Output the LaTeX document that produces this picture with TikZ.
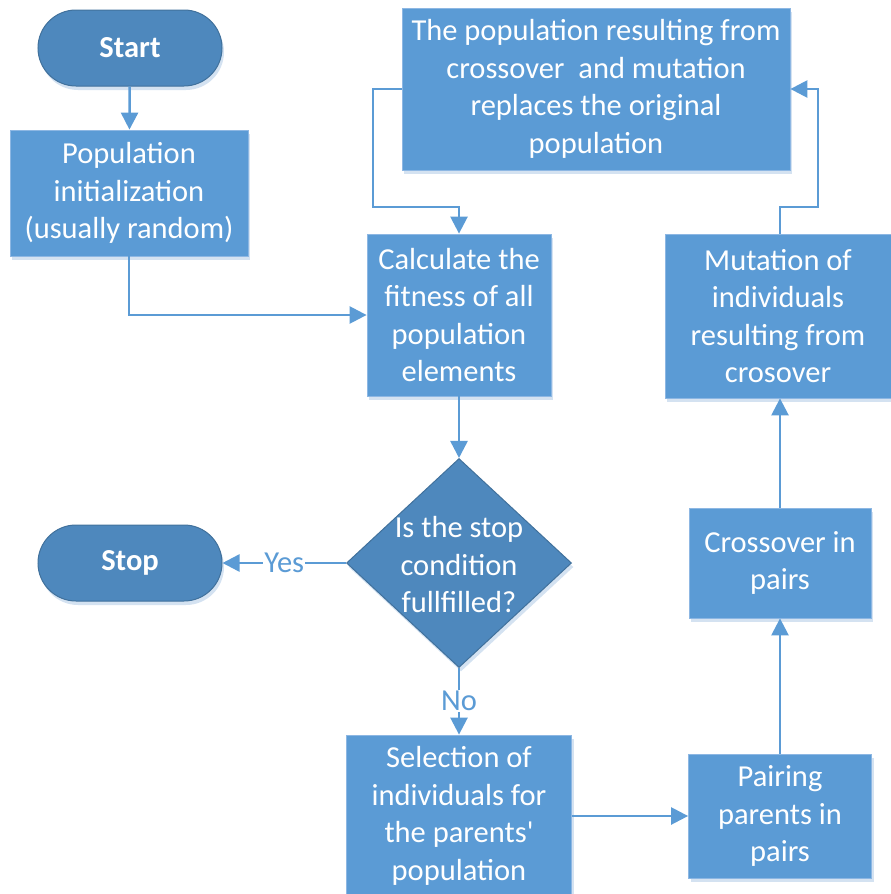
\documentclass[tikz,border=0pt]{standalone}
\usepackage{fontspec}
\setmainfont{Carlito}
\usetikzlibrary{shapes.geometric,shapes.misc,arrows.meta,shadows}
\definecolor{boxblue}{HTML}{5B9BD5}
\definecolor{boxedge}{HTML}{8DB7E3}
\definecolor{darkblue}{HTML}{4E88BD}
\definecolor{darkedge}{HTML}{41719C}
\definecolor{shadowblue}{HTML}{C9DBEE}
\begin{document}
\begin{tikzpicture}[x=1pt,y=-1pt,
  basefont/.style={font=\fontsize{30.5}{37.5}\selectfont},
  shade box/.style={drop shadow={shadow xshift=2pt,shadow yshift=-4pt,fill=shadowblue,opacity=0.8}},
  procbox/.style={rectangle,basefont,text=white,fill=boxblue,draw=boxedge,line width=0.8pt,
    inner sep=0pt,align=center,shade box},
  terminal/.style={rounded rectangle,font=\fontsize{30.5}{37.5}\selectfont\bfseries,text=white,
    fill=darkblue,draw=darkedge,line width=1pt,inner sep=0pt,minimum width=184pt,minimum height=76pt,shade box},
  decision/.style={diamond,fill=darkblue,draw=darkedge,line width=1pt,inner sep=0pt,
    minimum width=225pt,minimum height=209pt,shade box},
  dectext/.style={basefont,text=white,align=center,inner sep=0pt},
  conn/.style={draw=boxblue,line width=2.5pt,-{Triangle[length=17pt,width=17pt]}},
  edgelabel/.style={basefont,text=boxblue,fill=white,inner sep=1pt}]
\useasboundingbox (0,0) rectangle (891,894);

% nodes
\node[terminal] (start) at (130,48) {Start};
\node[procbox,minimum width=238pt,minimum height=126pt] (pop) at (129,193)
  {Population\\initialization\\(usually random)};
\node[procbox,minimum width=388pt,minimum height=162pt] (top) at (596,89)
  {The population resulting from\\crossover\ \ and mutation\\replaces the original\\population};
\node[procbox,minimum width=184pt,minimum height=162pt] (calc) at (459,315)
  {Calculate the\\fitness of all\\population\\elements};
\node[decision] (cond) at (459,563) {};
\node[dectext] at ([yshift=-2pt]cond.center) {Is the stop\\condition\\fullfilled?};
\node[terminal] (stop) at (130,563) {Stop};
\node[procbox,minimum width=225pt,minimum height=162pt] (sel) at (459,816)
  {Selection of\\individuals for\\the parents\textquotesingle\\population};
\node[procbox,minimum width=183pt,minimum height=124pt] (pair) at (780,816)
  {Pairing\\parents in\\pairs};
\node[procbox,minimum width=182pt,minimum height=110pt] (cross) at (780,563)
  {Crossover in\\pairs};
\node[procbox,minimum width=226pt,minimum height=164pt] (mut) at (778,316)
  {Mutation of\\individuals\\resulting from\\crosover};

% bend points of the loop connectors
\coordinate (lbend) at (373,207);
\coordinate (rbend) at (818,207);

% connectors
\draw[conn] (start) -- (pop);
\draw[conn] (pop.south) |- (calc.west);
\draw[conn] (top.west) -| (lbend) -| (calc.north);
\draw[conn] (calc) -- (cond);
\draw[conn] (cond.west) -- node[edgelabel] {Yes} (stop.east);
\draw[conn] (cond.south) -- node[edgelabel] {No} (sel.north);
\draw[conn] (sel.east) -- (pair.west);
\draw[conn] (pair.north) -- (cross.south);
\draw[conn] (cross.north) -- (cross.north |- mut.south);
\draw[conn] (cross.north |- mut.north) |- (rbend) |- (top.east);
\end{tikzpicture}
\end{document}
